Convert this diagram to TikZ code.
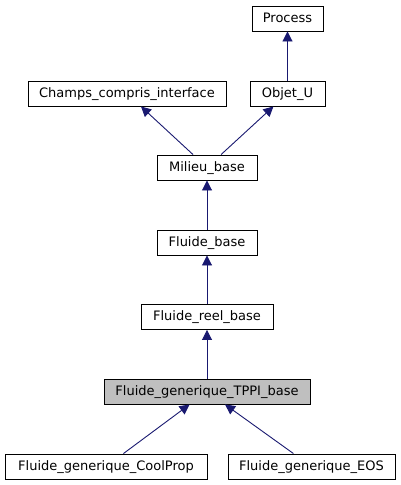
\documentclass[tikz,border=0pt]{standalone}
\usepackage{fontspec}
\setmainfont{DejaVu Sans}
\usetikzlibrary{arrows.meta}
\definecolor{edgeblue}{RGB}{25,25,112}
\definecolor{curgray}{RGB}{191,191,191}
\tikzset{
    x=1pt,
    y=-1pt,
    cls/.style = {
        draw,
        shape=rectangle,
        minimum height=25pt,
        inner sep=0pt,
        line width=0.9pt,
        text height=9.5pt,
        text depth=2.5pt,
        font=\fontsize{13}{15}\selectfont
    },
    current/.style = {
        cls,
        fill=curgray
    },
    inherit/.style = {
        draw=edgeblue,
        line width=0.9pt,
        -{Triangle[length=10pt,width=10pt,fill=edgeblue]}
    },
}

\begin{document}
\begin{tikzpicture}
        \useasboundingbox (0,0) rectangle (400,485);

        \node[cls, minimum width=71] (process) at (287.5,18.5) {Process};
        \node[cls, minimum width=75] (objet) at (287.5,93.5) {Objet\_U};
        \node[cls, minimum width=198] (champs) at (127,93.5) {Champs\_compris\_interface};
        \node[cls, minimum width=100] (milieu) at (207,167.5) {Milieu\_base};
        \node[cls, minimum width=100] (fluide) at (207,242.5) {Fluide\_base};
        \node[cls, minimum width=132] (reel) at (207,317) {Fluide\_reel\_base};
        \node[current, minimum width=206] (tppi) at (207,391.5) {Fluide\_generique\_TPPI\_base};
        \node[cls, minimum width=202] (coolprop) at (106,466.5) {Fluide\_generique\_CoolProp};
        \node[cls, minimum width=167] (eos) at (311.5,466.5) {Fluide\_generique\_EOS};

        \path[inherit] (objet) -- (process);
        \path[inherit] (milieu) -- (champs);
        \path[inherit] (milieu) -- (objet);
        \path[inherit] (fluide) -- (milieu);
        \path[inherit] (reel) -- (fluide);
        \path[inherit] (tppi) -- (reel);
        \path[inherit] (coolprop) -- (tppi);
        \path[inherit] (eos) -- (tppi);
\end{tikzpicture}
\end{document}
